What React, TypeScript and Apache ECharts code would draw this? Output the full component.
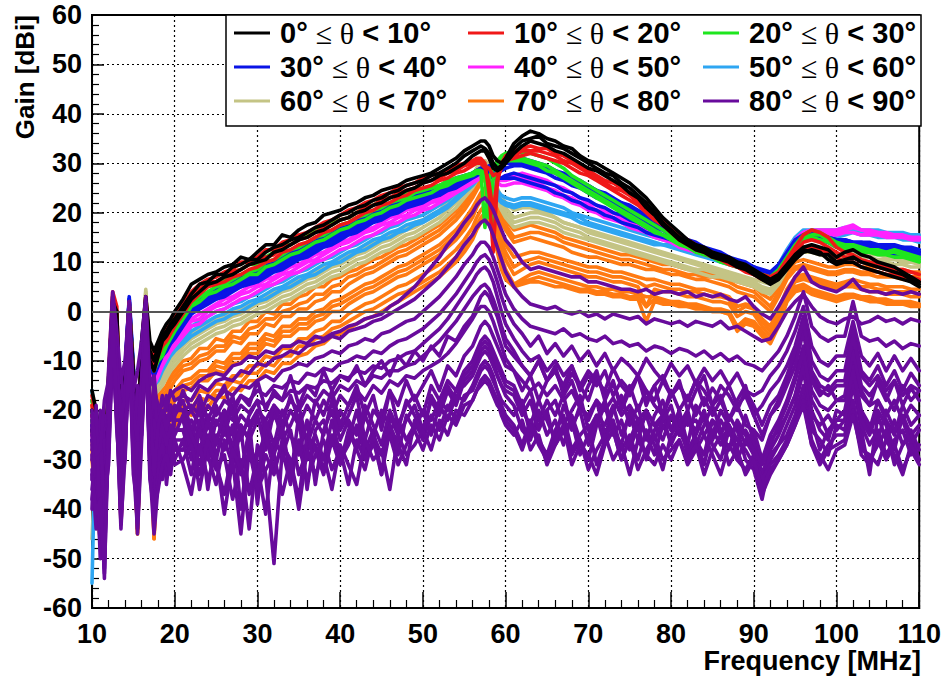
import React, { useEffect, useRef } from "react";
import * as echarts from "echarts";

// Frequency grid (MHz): half steps in the low band and around the 58 MHz resonance
const FREQ = [
  10, 10.5, 11, 11.5, 12, 12.5, 13, 13.5, 14, 14.5, 15, 15.5, 16, 16.5, 17, 17.5, 18, 18.5, 19, 19.5, 20,
  21, 22, 23, 24, 25, 26, 27, 28, 29, 30, 31, 32, 33, 34, 35, 36, 37, 38, 39, 40,
  41, 42, 43, 44, 45, 46, 47, 48, 49, 50, 51, 52, 53, 54, 55, 56,
  56.5, 57, 57.5, 58, 58.5, 59, 59.5, 60,
  61, 62, 63, 64, 65, 66, 67, 68, 69, 70, 71, 72, 73, 74, 75, 76, 77, 78, 79, 80,
  81, 82, 83, 84, 85, 86, 87, 88, 89, 90, 91, 92, 93, 94, 95, 96, 97, 98, 99, 100,
  101, 102, 103, 104, 105, 106, 107, 108, 109, 110,
];

const X_TICKS = [10, 20, 30, 40, 50, 60, 70, 80, 90, 100, 110];
const Y_TICKS = [-60, -50, -40, -30, -20, -10, 0, 10, 20, 30, 40, 50, 60];

const THETA_BINS = [
  ["0°", "10°"], ["10°", "20°"], ["20°", "30°"],
  ["30°", "40°"], ["40°", "50°"], ["50°", "60°"],
  ["60°", "70°"], ["70°", "80°"], ["80°", "90°"],
];
const THETA_COLORS = [
  "#000000", "#f01818", "#1ee61e",
  "#0a14e6", "#ff22ff", "#2ea6f2",
  "#c4c485", "#ff7a12", "#680b9c",
];

// ---- gain curves [dBi], one array per antenna direction ----
// 0° ≤ θ < 10°
const BLACK_A = [
  -16, -20, -26, -34, -14, 2, 0, -26, -12, 1, -12, -28, -6, 3, -6, -8, -6, -4, -2.5, -1.5, 0,
  2.5, 5.5, 6.5, 7.5, 8, 9, 9.5, 11, 10.5, 12, 13.5, 13.5, 15.5, 15, 16.5, 17.5, 18, 19.5, 20, 20.5,
  21.5, 22, 23, 23.5, 24.5, 25, 25.5, 26.5, 27, 27.5, 28, 29, 30, 31, 32.5, 33.5,
  34, 34.5, 34.5, 33.5, 31.5, 30.5, 30, 31,
  34, 35.5, 36.5, 36, 35, 34.5, 33.5, 33, 31.5, 30.5, 30, 29, 28, 27, 26, 24.5, 23, 21, 19, 17.5,
  16, 14.5, 13.5, 13, 12, 11.5, 11, 10, 9.5, 8.5, 7.5, 6.5, 7.5, 9.5, 11.5, 13, 13.5, 13, 12.5, 11,
  12, 12.5, 11.5, 11, 10, 9.5, 9, 8, 7, 6,
];
const BLACK_B = [
  -20, -24, -32, -40, -16, 1, -2, -30, -15, 0, -14, -32, -9, 2, -8, -10, -7, -5, -4, -2.5, -1.5,
  1, 3.5, 5.5, 6, 7.5, 7.5, 9, 9.5, 10.5, 10.5, 12, 13, 13.5, 14.5, 15, 16, 17, 17.5, 18.5, 19.5,
  20, 21, 21.5, 22.5, 23, 24, 24.5, 25.5, 26, 26.5, 27.5, 28, 29, 30, 31.5, 32.5,
  33, 33.5, 33, 32, 30, 29, 29.5, 30.5,
  33, 34.5, 35, 35.5, 34, 33.5, 33, 32, 31, 30, 29, 28, 27.5, 26, 25, 23.5, 22, 20, 18, 16.5,
  15, 14, 13, 12.5, 11.5, 11, 10.5, 9.5, 9, 8, 7, 6, 7, 9, 11, 12.5, 12, 11.5, 11.5, 10,
  10.5, 11, 10, 9.5, 9, 8.5, 8, 7.5, 6.5, 5.5,
];
const BLACK_C = [
  -24, -28, -36, -46, -20, 0, -4, -34, -18, -1, -16, -36, -12, 1, -10, -12, -9, -6, -5, -3.5, -2.5,
  0, 2.5, 4, 5.5, 6, 7, 7.5, 8.5, 9.5, 10, 10.5, 12, 12.5, 13.5, 14.5, 15, 16, 16.5, 17.5, 18.5,
  19, 20, 20.5, 21.5, 22, 23, 23.5, 24.5, 25, 26, 26.5, 27.5, 28, 29, 30, 31.5,
  32, 32.5, 32.5, 31, 29, 28.5, 29, 30,
  32, 33.5, 34.5, 34, 33.5, 32.5, 32, 31, 30, 29, 28.5, 27.5, 26.5, 25.5, 24, 23, 21, 19.5, 17.5, 16,
  14.5, 13.5, 12.5, 12, 11, 10.5, 10, 9, 8.5, 7.5, 6.5, 5.5, 6.5, 8.5, 10.5, 12, 12.5, 12, 10.5, 9.5,
  10, 10, 9, 8.5, 8, 7.5, 7, 6.5, 6, 5,
];

// 10° ≤ θ < 20°
const RED_A = [
  -19, -23, -30, -40, -13, 4, 1, -30, -14, 1, -13, -30, -7, 3, -8, -9, -7, -5, -3.5, -2.5, -1,
  1.5, 4, 5.5, 6.5, 7, 8, 8.5, 10, 10, 11, 12.5, 12.5, 14, 14.5, 15.5, 16, 17, 18, 18.5, 19.5,
  20.5, 21, 22, 22.5, 23.5, 24, 25, 25.5, 26, 27, 27.5, 28, 28.5, 29.5, 30, 30.5,
  31, 31, 30, 24, 12, 26, 30, 31.5,
  32.5, 33, 33.5, 33, 33, 32, 31.5, 30.5, 29.5, 28.5, 27.5, 26.5, 26, 25, 24, 22.5, 21.5, 20, 18.5, 17,
  15.5, 14.5, 13.5, 12.5, 12, 11, 10.5, 9.5, 9, 8, 7.5, 7, 8, 10.5, 13, 15.5, 16.5, 16, 15, 13,
  12, 11.5, 10.5, 10, 9.5, 9, 8.5, 8.5, 8, 7.5,
];
const RED_B = [
  -21, -25, -33, -43, -17, 2, -1, -32, -16, 0, -15, -33, -10, 2, -9, -11, -8, -6, -5, -3.5, -2.5,
  0.5, 3, 4.5, 6, 6, 7, 8, 8.5, 9.5, 10, 11, 11.5, 13, 13.5, 14.5, 15, 16, 17, 17.5, 18.5,
  19, 20, 21, 21.5, 22.5, 23, 24, 24.5, 25, 26, 26.5, 27, 28, 28.5, 29.5, 30,
  30.5, 30.5, 29.5, 29, 27.5, 28, 29.5, 31,
  31.5, 32.5, 32.5, 32.5, 32, 31.5, 30.5, 30, 29, 28, 27, 26, 25, 24.5, 23.5, 22, 20.5, 19.5, 18, 16.5,
  15, 14, 13, 12.5, 11.5, 10.5, 10, 9.5, 8.5, 7.5, 7, 6.5, 7.5, 10, 12, 14, 14.5, 14, 13, 12,
  11, 11, 10, 9.5, 9, 8.5, 8, 7.5, 7, 6.5,
];
const RED_C = [
  -17, -21, -28, -37, -15, 3, 0, -29, -13, 2, -13, -29, -8, 2.5, -9, -12, -9, -7, -6, -4.5, -3,
  -0.5, 2, 3.5, 5, 5.5, 6, 7, 7.5, 8.5, 9, 10, 10.5, 12, 12.5, 13.5, 14, 15, 16, 16.5, 17.5,
  18, 19, 20, 20.5, 21.5, 22, 23, 23.5, 24.5, 25, 25.5, 26.5, 27, 28, 28.5, 29.5,
  30, 30, 29, 26, 20, 27, 29, 30.5,
  31, 31.5, 32, 31.5, 31, 30.5, 30, 29, 28, 27.5, 26.5, 25.5, 24.5, 23.5, 22.5, 21.5, 20, 18.5, 17.5, 16,
  14.5, 13.5, 12.5, 12, 11, 10.5, 9.5, 9, 8, 7.5, 6.5, 6, 7, 9, 11, 13, 13, 12.5, 12, 11,
  10, 10, 9, 8.5, 8, 7.5, 7.5, 7, 6.5, 6,
];

// 20° ≤ θ < 30°
const GREEN_A = [
  -22, -26, -35, -44, -18, 2, -1, -31, -15, 1, -14, -31, -9, 2, -8, -9, -7, -6, -4.5, -3, -2,
  0.5, 3, 4, 5.5, 6, 6.5, 8, 8.5, 9.5, 9.5, 11, 12, 13.5, 13.5, 14.5, 15.5, 16.5, 17, 18, 18.5,
  19, 20, 21, 21.5, 22.5, 23, 23.5, 24, 24.5, 25, 25, 25.5, 26, 26.5, 27.5, 28,
  28.5, 28.5, 17, 27, 29, 30.5, 31.5, 32,
  32.5, 32, 32, 31.5, 31, 30, 29, 27.5, 26.5, 25.5, 24.5, 23.5, 22.5, 21.5, 20.5, 19.5, 18.5, 17.5, 16.5, 15.5,
  14.5, 13.5, 13, 12, 11.5, 11, 10, 9.5, 9, 8, 7.5, 7, 8.5, 11, 13.5, 15.5, 16.5, 16, 15, 14,
  13.5, 13.5, 13, 12.5, 12.5, 12, 12.5, 12, 11.5, 11,
];
const GREEN_B = [
  -18, -22, -29, -38, -14, 2.5, 0, -28, -13, 1.5, -12, -29, -8, 2.5, -9, -11, -9, -8, -6, -4.5, -3,
  -0.5, 1.5, 3, 4, 5, 5.5, 6.5, 7.5, 8, 8.5, 10, 10.5, 11.5, 12.5, 13, 14, 15, 15.5, 16.5, 17.5,
  18, 19, 19.5, 20.5, 21, 22, 22.5, 23, 24, 24.5, 25, 25.5, 26.5, 27, 27.5, 28,
  28.5, 28.5, 28, 27, 16, 29, 30.5, 31.5,
  31.5, 31, 30.5, 30, 29.5, 28.5, 27.5, 26.5, 25.5, 24.5, 23.5, 22.5, 21.5, 20.5, 19.5, 18.5, 17.5, 16.5, 15.5, 15,
  14, 13, 12.5, 12, 11, 10.5, 10, 9, 8.5, 8, 7, 6.5, 8, 10.5, 13, 15, 15.5, 15.5, 14.5, 13.5,
  13, 13, 12.5, 12.5, 12, 12, 12, 11.5, 11, 10.5,
];
const GREEN_C = [
  -20, -25, -31, -42, -16, 1.5, -1, -29, -14, 0.5, -13, -30, -10, 2, -10, -12, -10, -9, -7, -5.5, -4,
  -1.5, 1, 2, 3.5, 4, 5, 5.5, 6.5, 7.5, 7.5, 9, 9.5, 10.5, 11.5, 12, 13, 14, 14.5, 15.5, 16.5,
  17, 18, 18.5, 19.5, 20, 21, 21.5, 22.5, 23, 23.5, 24, 25, 25.5, 26.5, 27, 27.5,
  28, 28, 27, 19, 27, 28.5, 29.5, 30.5,
  30.5, 30.5, 30, 29.5, 28.5, 28, 27, 26, 25, 24, 23, 22, 21, 20, 19, 18, 17, 16, 15.5, 14.5,
  13.5, 13, 12, 11.5, 11, 10, 9.5, 9, 8.5, 7.5, 7, 6.5, 8, 10.5, 12.5, 14.5, 15, 14.5, 14, 13,
  12.5, 12.5, 12, 12, 11.5, 11.5, 11, 11, 10.5, 10,
];

// 30° ≤ θ < 40°
const BLUE_A = [
  -24, -28, -38, -48, -15, 2, -2, -33, -12, 3, -11, -32, -7, 2, -9, -10, -8, -7, -5.5, -4, -3,
  -1, 1.5, 2.5, 3.5, 4.5, 5, 6, 7, 7.5, 8, 9.5, 10, 11, 12, 12.5, 13.5, 14.5, 15, 16, 17,
  17.5, 18.5, 19.5, 20, 21, 21.5, 22.5, 23, 23.5, 24, 24.5, 25.5, 26, 27, 27.5, 28,
  28.5, 29, 29, 29.5, 29.5, 30, 30.5, 30.5,
  31, 31, 30.5, 30, 29.5, 28.5, 28, 27, 26.5, 25.5, 24.5, 23.5, 22.5, 22, 21, 20, 19, 18, 17, 16,
  15, 14, 13.5, 12.5, 12, 11.5, 10.5, 10, 9.5, 9, 8, 7.5, 9, 11.5, 14, 15.5, 16, 15.5, 15, 14.5,
  14.5, 14, 14, 13.5, 13.5, 13.5, 13, 13, 12.5, 12,
];
const BLUE_B = [
  -20, -26, -34, -44, -13, 1, -3, -30, -11, 2, -12, -30, -6, 1.5, -10, -12, -9, -8, -7, -5.5, -4.5,
  -2.5, 0, 1, 2.5, 3, 4, 5, 5.5, 6.5, 7, 8, 9, 9.5, 10.5, 11.5, 12, 13, 14, 14.5, 15.5,
  16.5, 17, 18, 19, 19.5, 20.5, 21, 22, 22.5, 23, 23.5, 24.5, 25, 26, 27, 27.5,
  28, 28.5, 28.5, 28.5, 28, 28, 28.5, 29,
  29.5, 29.5, 29, 28.5, 28, 27, 26.5, 25.5, 25, 24, 23, 22.5, 21.5, 20.5, 20, 19, 18, 17, 16.5, 15.5,
  14.5, 14, 13, 12.5, 12, 11, 10.5, 10, 9.5, 8.5, 8, 7.5, 9, 11.5, 14, 15.5, 15.5, 15, 14.5, 14,
  14, 13.5, 13.5, 13.5, 13, 13, 13, 12.5, 12.5, 12,
];
const BLUE_C = [
  -26, -30, -40, -47, -17, 0.5, -4, -34, -14, 1, -14, -34, -9, 1, -11, -13, -11, -9, -8, -6.5, -5.5,
  -3, -0.5, 0.5, 1.5, 2.5, 3, 4, 5, 5.5, 6, 7, 8, 8.5, 9.5, 10.5, 11, 12, 13, 13.5, 14.5,
  15.5, 16, 17, 18, 18.5, 19.5, 20, 21, 21.5, 22, 23, 23.5, 24.5, 25, 26, 27,
  27.5, 28, 28, 27.5, 27, 27, 27, 27.5,
  28, 27.5, 27, 26.5, 26, 25.5, 24.5, 24, 23, 22.5, 21.5, 21, 20, 19.5, 18.5, 18, 17, 16.5, 15.5, 15,
  14, 13.5, 13, 12, 11.5, 11, 10, 9.5, 9, 8.5, 7.5, 7, 8.5, 11, 13.5, 15, 15, 14.5, 14, 13.5,
  13.5, 13, 13, 12.5, 12.5, 12.5, 12, 12, 11.5, 11.5,
];
const BLUE_D = [
  -22, -27, -36, -45, -16, 1.5, -3, -31, -13, 2.5, -13, -31, -8, 2, -10, -11, -10, -8.5, -6.5, -5, -4,
  -2, 0.5, 1.5, 3, 3.5, 4.5, 5, 6, 7, 7.5, 8.5, 9, 10, 11, 11.5, 12.5, 13.5, 14, 15, 16,
  16.5, 17.5, 18.5, 19, 20, 21, 21.5, 22.5, 23, 23.5, 24, 25, 25.5, 26.5, 27, 27.5,
  28, 28.5, 28.5, 28.5, 28.5, 29, 29.5, 30,
  30, 30, 29.5, 29, 28.5, 28, 27, 26.5, 25.5, 25, 24, 23, 22, 21, 20.5, 19.5, 18.5, 17.5, 16.5, 15.5,
  14.5, 14, 13, 12.5, 12, 11.5, 11, 10, 9.5, 9, 8, 7.5, 9, 11.5, 14, 15, 15.5, 15, 14, 13,
  13, 12.5, 12.5, 12, 12, 12, 11.5, 11.5, 11, 11,
];
const BLUE_E = [
  -23, -29, -37, -46, -16, 1, -3.5, -32, -13, 1.5, -13, -32, -8.5, 1.5, -10.5, -12, -10, -8.5, -7.5, -6, -5,
  -2.5, -0.5, 1, 2, 2.5, 3.5, 4.5, 5, 6, 6.5, 7.5, 8.5, 9, 10, 11, 11.5, 12.5, 13.5, 14, 15,
  16, 16.5, 17.5, 18.5, 19, 20, 20.5, 21.5, 22, 22.5, 23.5, 24, 25, 25.5, 26.5, 27.5,
  28, 28.5, 28.5, 28, 27.5, 27, 27, 27,
  27, 26.5, 26, 25.5, 25, 24, 23.5, 22.5, 22, 21, 20.5, 19.5, 19, 18, 17.5, 17, 16, 15.5, 15, 14.5,
  14, 13.5, 12.5, 12, 11.5, 11, 10.5, 10, 9.5, 8.5, 8, 7.5, 9, 11.5, 14, 15, 15.5, 15, 14.5, 14,
  14, 13.5, 13.5, 13, 13, 13, 12.5, 12.5, 12, 12,
];
const BLUE_F = [
  -21, -26, -35, -45, -14, 2, -2.5, -31, -12, 2.5, -12, -31, -7.5, 2, -9.5, -10.5, -8.5, -7, -6, -4.5, -3.5,
  -1.5, 1, 2, 3, 4, 4.5, 5.5, 6.5, 7, 7.5, 9, 9.5, 10.5, 11.5, 12, 13, 14, 14.5, 15.5, 16.5,
  17, 18, 19, 19.5, 20.5, 21, 22, 22.5, 23, 23.5, 24, 25, 25.5, 26.5, 27, 28,
  28.5, 29, 29, 29, 29, 29.5, 30, 30.5,
  30.5, 30.5, 30, 29.5, 29, 28.5, 27.5, 27, 26, 25.5, 24.5, 24, 23, 22, 21.5, 20.5, 19.5, 18.5, 17.5, 16.5,
  15.5, 14.5, 14, 13, 12.5, 12, 11, 10.5, 10, 9, 8.5, 8, 9.5, 12, 14.5, 15.5, 16, 15.5, 15, 14.5,
  14.5, 14, 14, 14, 13.5, 13.5, 13.5, 13, 13, 12.5,
];

// 40° ≤ θ < 50°
const MAGENTA_A = [
  -25, -30, -36, -46, -18, 2, -3, -40, -15, 1, -15, -35, -10, 1.5, -11, -14, -12, -10, -8.5, -7, -6,
  -4, -2, -1.5, 0, 1, 1.5, 2.5, 3.5, 4, 5, 5.5, 6.5, 7.5, 8, 9, 10, 10.5, 11.5, 12.5, 13.5,
  14, 15, 16, 16.5, 17.5, 18, 19, 19.5, 20.5, 21, 22, 22.5, 23.5, 24.5, 25.5, 26.5,
  27, 27.5, 28, 27.5, 27, 26.5, 26.5, 26.5,
  27, 27, 26.5, 26, 25, 24.5, 23.5, 23, 22, 21.5, 20.5, 20, 19, 18.5, 18, 17, 16.5, 16, 15, 14.5,
  13.5, 13, 12.5, 12, 11.5, 11, 10, 9.5, 9, 8.5, 8, 7.5, 9, 12, 14.5, 16, 16.5, 16.5, 16.5, 16.5,
  17, 17.5, 16.5, 16.5, 16, 16, 15.5, 15.5, 15, 15,
];
const MAGENTA_B = [
  -23, -27, -39, -42, -16, 1, -4, -42, -14, 0, -16, -33, -11, 1, -12, -15, -13, -11, -9.5, -8, -7,
  -5, -3, -2.5, -1, 0, 0.5, 1.5, 2.5, 3, 4, 5, 5.5, 6.5, 7.5, 8, 9, 10, 10.5, 11.5, 12.5,
  13, 14, 15, 15.5, 16.5, 17.5, 18, 19, 19.5, 20.5, 21, 22, 23, 24, 25, 26,
  26.5, 27, 27.5, 27, 26.5, 26, 25.5, 25.5,
  26, 26, 25.5, 25, 24.5, 23.5, 23, 22, 21.5, 20.5, 20, 19, 18.5, 18, 17, 16.5, 16, 15, 14.5, 14,
  13, 12.5, 12, 11.5, 11, 10.5, 10, 9.5, 9, 8.5, 8, 7.5, 9, 11.5, 14, 15.5, 16, 16, 15.5, 15.5,
  16, 16, 15.5, 15.5, 15.5, 15, 15, 15, 14.5, 14.5,
];
const MAGENTA_C = [
  -21, -25, -33, -43, -15, 2.5, -2, -38, -13, 1.5, -13, -32, -9, 2, -10, -13, -11, -9.5, -8, -6.5, -5,
  -3.5, -1.5, -0.5, 0.5, 1.5, 2.5, 3, 4, 5, 5.5, 6.5, 7, 8, 9, 9.5, 10.5, 11.5, 12, 13, 14,
  14.5, 15.5, 16.5, 17, 18, 19, 19.5, 20.5, 21, 21.5, 22.5, 23, 24, 25, 26, 26.5,
  27, 27.5, 27.5, 27.5, 27.5, 27, 27, 27.5,
  27.5, 28, 27.5, 27, 26.5, 25.5, 25, 24, 23, 22, 21.5, 20.5, 20, 19, 18.5, 17.5, 17, 16, 15.5, 15,
  14, 13.5, 13, 12.5, 12, 11, 10.5, 10, 9.5, 9, 8, 7.5, 9, 11.5, 14.5, 16, 16.5, 16, 16, 16,
  16.5, 17, 16.5, 16, 16, 15.5, 15.5, 15, 15, 14.5,
];

// 50° ≤ θ < 60°
const AZURE_A = [
  -55, -20, -30, -44, -14, 2, -3, -34, -13, 1, -13, -31, -9, 2, -11, -14, -12, -10.5, -9, -7.5, -6.5,
  -5, -3, -2, -1, 0, 0.5, 1.5, 2, 3, 3.5, 4.5, 5.5, 6, 7, 8, 8.5, 9.5, 10.5, 11, 12,
  13, 13.5, 14.5, 15.5, 16, 17, 17.5, 18.5, 19, 19.5, 20.5, 21.5, 22.5, 24, 25, 26.5,
  27.5, 28.5, 28.5, 27.5, 26, 24.5, 23.5, 23,
  22.5, 23, 23, 22.5, 22, 21.5, 21, 20, 19.5, 19, 18.5, 18, 17.5, 17, 16.5, 16, 15.5, 15, 14.5, 14,
  13.5, 13, 12.5, 12, 11.5, 11, 10.5, 10, 9.5, 9, 8, 7.5, 9.5, 12.5, 15, 16.5, 16.5, 16.5, 16.5, 16.5,
  17, 17, 16.5, 16.5, 16.5, 16, 16, 16, 15.5, 15.5,
];
const AZURE_B = [
  -16, -24, -32, -46, -17, 1.5, -4, -35, -14, 0.5, -14, -33, -10, 1.5, -12, -15, -13, -11.5, -10, -8.5, -7.5,
  -6, -4, -3, -2, -1, -0.5, 0.5, 1, 2, 2.5, 3.5, 4.5, 5, 6, 7, 7.5, 8.5, 9.5, 10, 11,
  12, 12.5, 13.5, 14.5, 15, 16, 16.5, 17.5, 18, 18.5, 19.5, 20.5, 21.5, 23, 24.5, 26,
  27, 28, 28, 27, 25, 23.5, 22.5, 22,
  21.5, 22, 22, 21.5, 21, 20.5, 20, 19.5, 19, 18, 17.5, 17, 16.5, 16, 15.5, 15, 14.5, 14, 13.5, 13.5,
  13, 12.5, 12, 11.5, 11, 10.5, 10, 9.5, 9, 8.5, 7.5, 7, 9, 12, 14.5, 16, 16, 16, 15.5, 15.5,
  16, 16.5, 16, 16, 15.5, 15.5, 15.5, 15, 15, 14.5,
];
const AZURE_C = [
  -18, -21, -30, -43, -15, 3, -2, -32, -12, 1.5, -12, -30, -8, 2.5, -12, -15, -14, -12, -10.5, -9, -8,
  -6.5, -5, -4, -3, -2, -1.5, -0.5, 0, 1, 2, 2.5, 3.5, 4.5, 5, 6, 7, 7.5, 8.5, 9.5, 10,
  11, 12, 12.5, 13.5, 14.5, 15, 16, 16.5, 17.5, 18, 19, 20, 21, 22.5, 24, 25.5,
  26.5, 27.5, 27.5, 26.5, 24.5, 23, 22, 21.5,
  21, 21.5, 21.5, 21, 20.5, 20, 19.5, 19, 18, 17.5, 17, 16.5, 16, 15.5, 15, 14.5, 14, 13.5, 13.5, 13,
  12.5, 12, 11.5, 11, 10.5, 10, 9.5, 9, 8.5, 8, 7.5, 7, 8.5, 11.5, 14, 15.5, 15.5, 15.5, 15, 15,
  15.5, 16, 15.5, 15.5, 15, 15, 15, 14.5, 14.5, 14,
];

// 60° ≤ θ < 70°
const KHAKI_A = [
  -20, -23, -30, -45, -15, 2.5, -2, -32, -12, 2, -13, -31, -9, 4.5, -11, -14, -13, -12, -10.5, -9, -8,
  -6, -4.5, -3.5, -2.5, -1.5, -1, 0, 0.5, 1.5, 2, 3, 4, 4.5, 5.5, 6.5, 7, 8, 9, 9.5, 10.5,
  11.5, 12, 13, 14, 14.5, 15.5, 16.5, 17, 18, 18.5, 19.5, 20.5, 22, 23.5, 25.5, 27.5,
  29, 30.5, 30.5, 29.5, 27.5, 25, 23, 22,
  20.5, 21, 21, 20.5, 20, 19, 18, 17.5, 17, 16.5, 16, 15.5, 15, 14.5, 14, 13.5, 13, 12.5, 12, 11.5,
  11, 10.5, 10, 9.5, 9, 8.5, 8, 7.5, 7, 6.5, 6, 5.5, 8, 11, 13.5, 14.5, 14.5, 14, 13.5, 13,
  13.5, 13.5, 13, 13, 12.5, 12.5, 12.5, 12, 12, 11.5,
];
const KHAKI_B = [
  -19, -24, -31, -46, -16, 2, -3, -33, -13, 1.5, -14, -32, -10, 4, -12, -15, -14, -13, -11.5, -10, -9,
  -7, -5.5, -4.5, -3.5, -2.5, -2, -1, -0.5, 0.5, 1.5, 2, 3, 4, 4.5, 5.5, 6.5, 7, 8, 9, 9.5,
  10.5, 11.5, 12, 13, 14, 14.5, 15.5, 16.5, 17, 18, 19, 20, 21.5, 23, 25, 27,
  28.5, 30, 30.5, 29.5, 27, 24.5, 22.5, 21,
  19, 19.5, 20, 20, 19.5, 19, 18, 17.5, 17, 16, 15.5, 15, 14.5, 14, 13.5, 13, 12.5, 12, 11.5, 11,
  10.5, 10, 9.5, 9, 8.5, 8, 7.5, 7, 6.5, 6, 5, 4.5, 6.5, 9.5, 12, 13, 13, 12.5, 12, 11.5,
  12, 12, 11.5, 11.5, 11.5, 11, 11, 10.5, 10.5, 10,
];
const KHAKI_C = [
  -21, -26, -33, -48, -17, 1, -4, -35, -14, 1, -15, -34, -11, 3, -13, -16, -15, -14, -12.5, -11, -10,
  -8, -6.5, -5.5, -4.5, -3.5, -3, -2, -1.5, -0.5, 0.5, 1, 2, 3, 3.5, 4.5, 5.5, 6, 7, 8, 8.5,
  9.5, 10.5, 11, 12, 13, 13.5, 14.5, 15.5, 16, 17, 18, 19, 20.5, 22, 24, 26,
  27.5, 29, 29.5, 28.5, 26, 23.5, 21.5, 20,
  18, 18.5, 19, 19, 18.5, 18, 17, 16.5, 16, 15, 14.5, 14, 13.5, 13, 12.5, 12, 11.5, 11, 10.5, 10,
  9.5, 9, 8.5, 8.5, 8, 7.5, 7, 6.5, 6, 5.5, 4.5, 4, 6, 9, 11.5, 12.5, 12.5, 12, 11.5, 11,
  11.5, 11.5, 11, 11, 10.5, 10.5, 10.5, 10, 10, 9.5,
];
const KHAKI_D = [
  -46, -28, -35, -44, -18, 1.5, -5, -36, -15, 0, -16, -35, -12, 3.5, -14, -17, -16, -15, -13.5, -12, -11,
  -9, -7.5, -6.5, -5.5, -4.5, -4, -3, -2.5, -1.5, -0.5, 0, 1, 2, 2.5, 3.5, 4.5, 5, 6, 7, 7.5,
  8.5, 9.5, 10, 11, 12, 12.5, 13.5, 14.5, 15, 16, 17, 18, 19.5, 21, 23, 25,
  26.5, 28, 28.5, 27.5, 25, 22.5, 20.5, 19,
  17, 17.5, 18, 18, 17.5, 17, 16, 15.5, 15, 14.5, 14, 13.5, 13, 12.5, 12, 11.5, 11, 10.5, 10, 9.5,
  9, 8.5, 8, 7.5, 7, 7, 6.5, 6, 5.5, 5, 4, 3.5, 5.5, 8.5, 11, 12, 12, 11.5, 11, 10.5,
  11, 11, 10.5, 10, 10, 10, 9.5, 9.5, 9, 9,
];

// 70° ≤ θ < 80°
const ORANGE_A = [
  -18, -22, -28, -42, -17, 2, -4, -36, -15, 1, -15, -38, -11, 2, -14, -20, -17, -16, -15, -13, -12,
  -10, -9.5, -7.5, -7.5, -5.5, -6, -4, -4, -2, -2, 0, -0.5, 1.5, 1.5, 3, 3.5, 5, 5, 6.5, 7,
  8, 8.5, 9.5, 10.5, 11, 12, 13, 13.5, 14.5, 15.5, 16.5, 17.5, 19, 20.5, 22.5, 25,
  26.5, 28, 28.5, 27.5, 25, 22, 20, 18.5,
  16.5, 17, 17.5, 17, 16.5, 16, 15, 14.5, 14, 13.5, 13, 12.5, 12, 11.5, 11.5, 11, 10.5, 10, 9.5, 9.5,
  9, 8.5, 8.5, 8, 7.5, 7, 6.5, 6, 5.5, 5, 3.5, 2.5, 5, 8, 10, 10.5, 10, 9.5, 9, 9,
  9.5, 9.5, 9, 9, 9, 8.5, 8.5, 8.5, 8, 8,
];
const ORANGE_B = [
  -19, -24, -30, -44, -18, 1.5, -5, -38, -16, 0.5, -16, -40, -12, 2, -15, -22, -18, -17, -16, -14, -13,
  -11, -10.5, -9, -8.5, -7, -7, -5, -5.5, -3.5, -3, -1.5, -1.5, 0, 0.5, 1.5, 2, 3.5, 3.5, 5, 5.5,
  7, 7.5, 8.5, 9, 10, 11, 12, 12.5, 13.5, 14.5, 15.5, 16.5, 18, 19.5, 21.5, 24,
  25.5, 27, 28, 27, 24, 21, 19, 17.5,
  15, 15.5, 16, 16, 15.5, 15, 14, 13.5, 13, 12.5, 12, 11.5, 11, 10.5, 10.5, 10, 9.5, 9, 8.5, 8.5,
  8, 7.5, 7.5, 7, 7, 6.5, 6, 5, 4.5, 4, 2.5, 1, 4, 7, 9, 9.5, 9, 8.5, 8, 8,
  8.5, 8.5, 8, 8, 8, 7.5, 7.5, 7.5, 7, 7,
];
const ORANGE_C = [
  -20, -26, -31, -45, -19, 1, -6, -40, -17, 0, -18, -42, -13, 1.5, -16, -24, -19, -18, -17, -15.5, -14,
  -12, -11.5, -10, -9.5, -8, -8, -6, -6.5, -4.5, -4.5, -2.5, -3, -1, -1, 0.5, 0.5, 2, 2.5, 4, 4,
  5.5, 6.5, 7.5, 8, 9, 10, 11, 11.5, 12.5, 13.5, 14.5, 15.5, 17, 18.5, 20.5, 23,
  24.5, 26, 27, 26, 23.5, 20.5, 18, 16.5,
  14, 14.5, 15, 14.5, 14, 13.5, 13, 12, 11.5, 11, 11, 10.5, 10, 9.5, 9.5, 9, 8.5, 8.5, 8, 7.5,
  7.5, 7, 6.5, 6.5, 6, 5.5, 5, 4, 3.5, 3, 1.5, 0, 3, 6.5, 8.5, 9, 8.5, 8, 7.5, 7.5,
  8, 8, 7.5, 7.5, 7, 7, 7, 6.5, 6.5, 6,
];
const ORANGE_D = [
  -22, -30, -35, -48, -21, 0, -8, -41, -18, -1, -19, -45, -15, 1, -18, -46, -22, -20, -19, -17, -16,
  -14, -13.5, -12, -12, -10, -10.5, -8.5, -8.5, -6.5, -6.5, -4.5, -5, -3, -3, -1.5, -1.5, 0, 0.5, 2, 2.5,
  3.5, 4.5, 5.5, 6, 7, 8, 9, 9.5, 10.5, 11.5, 12.5, 13.5, 15, 16.5, 18.5, 21,
  22.5, 24, 25, 24, 21.5, 18.5, 15.5, 13.5,
  11, 11.5, 12, 12, 11.5, 11, 10.5, 10, 9.5, 9, 9, 8.5, 8, 8, 7.5, 7, 6.5, 6.5, 6, 5.5,
  5.5, 5, 4.5, 4.5, 4, 3.5, 3, 1, 1.5, 1, -1.5, -3, 0.5, 4.5, 7, 7.5, 7, 6.5, 6, 5.5,
  6, 6.5, 6, 5.5, 5.5, 5, 5, 5, 4.5, 4.5,
];
const ORANGE_E = [
  -23, -31, -36, -47, -22, -0.5, -9, -40, -19, -1.5, -20, -44, -16, 1, -19, -43, -23, -21, -20, -18.5, -17,
  -15, -14.5, -13, -13, -11, -11.5, -9.5, -9.5, -7.5, -7.5, -5.5, -6, -4, -4, -2.5, -2.5, -1, -0.5, 1, 1.5,
  2.5, 3.5, 4.5, 5, 6, 7, 8, 8.5, 9.5, 10.5, 11.5, 12.5, 14, 15.5, 17.5, 20,
  22, 23.5, 24.5, 23.5, 21, 17.5, 14, 12,
  9, 10, 10.5, 11, 10.5, 10, 9.5, 9, 8.5, 8, 8, 7.5, 7, 7, 6.5, 6, 5, 5.5, 5, 4.5,
  4.5, 4, 4, 3.5, 3, 3, 2.5, 0, 1, 0.5, -2, -4, -0.5, 4, 6.5, 7, 6.5, 6, 5.5, 5,
  5.5, 5.5, 5, 5, 4.5, 4.5, 4, 4, 4, 3.5,
];
const ORANGE_F = [
  -24, -33, -38, -46, -23, -1, -10, -38, -20, -2, -21, -43, -17, 0.5, -20, -40, -24, -22, -22, -20, -18,
  -16, -15.5, -14, -14, -12, -12.5, -10.5, -10.5, -8.5, -8.5, -6.5, -7, -5, -5, -3.5, -3.5, -2, -1.5, 0, 0,
  1.5, 2.5, 3.5, 4, 5, 6, 7, 7.5, 8.5, 9.5, 10.5, 11.5, 13, 14.5, 16.5, 19,
  21, 22.5, 23.5, 22.5, 20, 16.5, 13, 10.5,
  7.5, 8.5, 9.5, 10, 9.5, 9, 8.5, 8, 7.5, 7, 7, 6.5, 6, 6, 5.5, 5, 1, 4.5, 4, 4,
  3.5, 3, 3, 2.5, 2, 2, 1.5, -1, 0, -0.5, -3, -5, -1, 3.5, 6, 6.5, 6, 5.5, 5, 4.5,
  5, 5, 4.5, 4, 4, 3.5, 3.5, 3.5, 3, 3,
];
const ORANGE_G = [
  -26, -36, -42, -40, -25, -2, -12, -40, -22, -3, -23, -45, -19, 0, -22, -44, -26, -25, -24, -22, -21,
  -18, -18, -16, -16.5, -14.5, -15, -13, -13, -11, -11, -9, -9.5, -7.5, -7.5, -5.5, -5.5, -4, -3.5, -2, -2,
  -0.5, 0.5, 1.5, 2, 3, 4, 5, 5.5, 6.5, 7.5, 8.5, 9.5, 11, 12.5, 14.5, 17,
  19, 20.5, 21.5, 20.5, 18, 14.5, 11, 8.5,
  5.5, 6.5, 7.5, 8, 7.5, 7, 6.5, 6, 5.5, 5, 5, 4.5, 4.5, 4, 4, 3.5, 3, 3, 2.5, 2,
  2, 1.5, 1.5, 1, 0.5, 0.5, 0, -3, -1.5, -2, -4, -6, -2, 2.5, 5, 5.5, 4.5, 4, 3.5, 3,
  3.5, 3.5, 3, 3, 2.5, 2.5, 2, 2, 2, 1.5,
];
const ORANGE_H = [
  -28, -38, -44, -38, -26, -2.5, -13, -42, -23, -3.5, -25, -44, -20, -0.5, -23, -45, -27, -26, -25, -23.5, -22.5,
  -19, -19.5, -17.5, -18, -16, -16, -14, -14.5, -12.5, -12.5, -10.5, -11, -9, -9, -7, -7, -5.5, -5, -3.5, -3,
  -2, -1, 0, 0.5, 1.5, 2.5, 3.5, 4, 5, 6, 7, 8, 9.5, 11, 13, 15.5,
  17.5, 19, 20, 19, 16.5, 13, 9.5, 7.5,
  5, 6, 6.5, 7, 6.5, 6, 5.5, 5, 4.5, 4.5, 4, 4, 3.5, 3.5, 3, 3, 1, 2.5, 2, 2,
  1.5, 1, 1, 0.5, 0, 0, -0.5, -3.5, -2, -2.5, -4.5, -6, -2.5, 2, 4.5, 5, 4, 3.5, 3, 2.5,
  3, 3, 2.5, 2.5, 2, 2, 1.5, 1.5, 1.5, 1,
];
const ORANGE_I = [
  -30, -40, -46, -35, -27, -3, -14, -43, -24, -4, -26, -44, -21, -1, -24, -46, -28, -27, -26, -25, -24,
  -20, -21, -18.5, -19.5, -17, -17.5, -15.5, -16, -14, -14, -12, -12.5, -10.5, -10.5, -9, -8.5, -7, -6.5, -5, -4.5,
  -3.5, -2.5, -1.5, -1, 0, 1, 2, 3, 4, 5, 6, 7, 8.5, 10, 12, 14.5,
  16.5, 18, 19, 18, 15.5, 12, 8.5, 6.5,
  5, 5.5, 6, 6, 5.5, 5, 5, 4.5, 4, 4, 3.5, 3.5, 3, 3, 2.5, 2.5, -2, 2, 1.5, 1.5,
  1, 1, 0.5, 0.5, 0, 0, -0.5, -4, -2.5, -3, -5, -6.5, -3, 2, 4, 4.5, 3.5, 3, 2.5, 2,
  2.5, 3, 2.5, 2, 2, 1.5, 1.5, 1.5, 1, 1,
];

// 80° ≤ θ < 90°
const PURPLE_A = [
  -25, -30, -40, -50, -20, 3, -8, -38, -18, 0, -20, -40, -15, 2, -18, -32, -20, -19, -18, -17, -16,
  -15, -16, -14, -13, -12.5, -13, -11, -10.5, -9, -9.5, -8, -8.5, -7, -7, -6, -6.5, -5, -5.5, -4.5, -4,
  -3, -2.5, -1.5, -1, -0.5, 1, 2, 3.5, 5, 7, 9, 11, 13.5, 15.5, 18, 20,
  21.5, 22.5, 23, 22, 20.5, 18.5, 16.5, 14.5,
  12.5, 10, 8.5, 9, 8.5, 8, 7.5, 7, 7, 6, 6, 5.5, 5, 4.5, 4.5, 4, 4.5, 3.5, 4, 4,
  3.5, 4, 3, 3.5, 3, 3.5, 2.5, 2, 3, 1, -0.5, -1.5, 1, 4, 7, 9, 6, 5, 4.5, 4,
  5, 6.5, 4.5, 4, 4, 3.5, 4, 3.5, 4, 3.5,
];
const PURPLE_B = [
  -20, -28, -22, -45, -12, 4, -4, -14, -10, 2, -16, -12, -6, 3, -15, -13, -22, -17, -20, -16, -18,
  -17, -18, -15, -16, -14, -13.5, -14, -12, -12.5, -10.5, -11, -9.5, -9, -8, -8.5, -7, -6.5, -6, -5, -5.5,
  -4, -3.5, -3, -2, -1.5, -0.5, 0.5, 1.5, 2.5, 4, 5.5, 7, 9, 11, 13.5, 15.5,
  17, 18, 18.5, 17.5, 15.5, 13, 10.5, 8,
  5, 3, 1.5, 1, 0.5, 1, 0, -0.5, 0, -1, -0.5, -1.5, -0.5, -1, -1.5, -1, -2.5, -1.5, -2, -2.5,
  -2, -3, -2, -2.5, -3, -2, -3.5, -3, -4, -5, -6, -5.5, -3, 0, 2, 3.5, 1, -1, -2, -2.5,
  -1.5, -1, -2.5, -2, -1, -2, -1.5, -2.5, -1.5, -2,
];
const PURPLE_C = [
  -28, -24, -44, -21, -25, 1, -12, -20, -22, -2, -24, -18, -18, 0, -21, -16, -19, -24, -17, -22, -19,
  -20, -19, -21, -17, -18, -16, -17, -15, -15.5, -14, -13, -14, -12, -11.5, -10.5, -11, -9.5, -9, -8, -8.5,
  -7, -6.5, -5.5, -6, -4.5, -4, -3, -2, -1.5, 0, 1.5, 3, 5, 7, 9.5, 11.5,
  13, 14, 14, 13, 11, 8.5, 6, 3.5,
  0.5, -1.5, -3, -3.5, -4, -4.5, -3.5, -5, -4.5, -5.5, -6, -5, -6.5, -6, -7, -6.5, -8, -7, -7.5, -8.5,
  -7.5, -8, -9, -8, -9.5, -8.5, -10, -9, -10.5, -11, -12, -10, -8, -5, -1, 4, -3, -5, -6, -5,
  -5, 2, -5, -6, -5.5, -7, -6, -7.5, -6.5, -7,
];
const PURPLE_D = [
  -22, -33, -30, -54, -18, 2, -10, -26, -16, 1, -22, -24, -14, 1, -25, -20, -26, -21, -25, -19, -22,
  -22, -20, -23, -19, -21, -18, -19.5, -17, -18, -16, -17, -15, -15.5, -14, -14.5, -12.5, -13, -11.5, -12, -10.5,
  -10, -9, -9.5, -8, -8.5, -7, -6, -5.5, -4.5, -3.5, -2, -0.5, 1.5, 3.5, 6, 8.5,
  10, 11, 11.5, 10.5, 8.5, 6, 3, 0.5,
  -2.5, -4.5, -7, -5, -8.5, -6.5, -9, -7, -10, -8, -11, -8.5, -12, -9.5, -11, -13, -9.5, -12, -14, -10.5,
  -13, -11, -14.5, -11.5, -14, -12, -15, -12.5, -16, -17, -16, -13, -11, -8, -4, 1, -7, -10, -11, -9,
  -9, -2, -9, -11, -8.5, -12, -9, -12, -9.5, -12,
];
const PURPLE_E = [
  -30, -22, -42, -26, -28, -2, -15, -17, -25, -4, -18, -28, -20, -2, -28, -24, -23, -27, -21, -26, -24,
  -24, -22, -25, -21, -23, -20, -22, -19, -20.5, -18, -19, -17, -18, -16, -16.5, -15, -15.5, -14, -14.5, -13,
  -13.5, -12, -12.5, -11, -11.5, -10, -9.5, -8.5, -8, -6.5, -5, -3.5, -1.5, 1, 3.5, 6,
  7.5, 8.5, 9, 8, 6, 3, 0, -2.5,
  -5.5, -8, -10, -9, -12, -10, -13, -11, -15, -12, -14, -16, -11.5, -15, -17, -13, -16, -18, -14, -17,
  -15, -18, -14, -19, -15.5, -18, -15, -19, -17, -21, -19, -16, -14, -11, -7, -1, -10, -13, -14, -12,
  -12, -4, -12, -14, -11, -15, -12, -16, -12.5, -15,
];
const PURPLE_F = [
  -26, -36, -28, -48, -22, 0, -18, -30, -20, -6, -27, -22, -24, -4, -20, -28, -29, -22, -28, -24, -26,
  -26, -24, -28, -23, -26, -22, -25, -21, -23, -20, -22, -19, -21, -18, -20, -17, -18.5, -16, -17.5, -15,
  -16, -14, -15, -13, -13.5, -12, -12, -11, -10.5, -9, -7.5, -6, -4, -2, 0.5, 3,
  4, 5, 5.5, 4.5, 2.5, 0, -3, -5.5,
  -8, -11, -13, -10, -14, -12, -16, -12.5, -15, -18, -13, -17, -14.5, -19, -15, -20, -16, -19, -21, -16,
  -20, -17, -21, -17.5, -21, -18, -22, -19, -23, -24, -26, -21, -18, -14, -9, -4, -13, -16, -17, -15,
  -15, -7, -15, -17, -14.5, -18, -14, -19, -15.5, -18,
];
const PURPLE_G = [
  -34, -26, -46, -40, -30, -4, -20, -23, -28, -8, -25, -33, -16, -6, -30, -36, -24, -31, -23, -29, -28,
  -28, -26, -31, -25, -29, -24, -28, -23, -26, -22, -25, -21, -24, -20, -23, -19, -22, -18, -21, -17,
  -19, -16, -18, -15, -16.5, -14, -15, -13, -13.5, -12, -11, -10, -8.5, -6.5, -4, -1.5,
  0, 1, 1, 0, -2, -4.5, -7, -9.5,
  -12, -14, -16, -14.5, -17, -15, -18, -16, -19.5, -21, -18, -20, -17.5, -21, -19, -22, -20, -23, -21, -24,
  -21, -23, -22, -25, -22, -24, -23, -26, -24, -27, -30, -25, -22, -18, -13, -7, -16, -19, -20, -18,
  -18, -9, -17, -19, -18, -21, -18, -22, -19, -21,
];
const PURPLE_H = [
  -24, -40, -20, -52, -16, -6, -14, -39, -24, -3, -30, -15, -22, -1, -23, -18, -31, -26, -33, -27, -20,
  -20, -27, -18, -30, -22, -25, -19, -33, -24, -21, -28, -20, -26, -23, -19, -27, -22, -25, -18, -24,
  -21, -17, -26, -20, -22, -16, -23, -19, -17, -21, -15, -18, -14, -16, -12, -10,
  -8, -6, -5, -6, -8, -10, -12, -14,
  -15, -19, -16, -22, -18, -21, -17, -24, -19, -22, -18, -25, -20, -17, -23, -19, -26, -21, -18, -24,
  -20, -27, -19, -22, -25, -20, -23, -28, -21, -26, -33, -28, -25, -21, -17, -10, -20, -24, -26, -20,
  -21, -11, -21, -24, -18, -22, -25, -19, -23, -21,
];
const PURPLE_I = [
  -38, -30, -48, -44, -26, -8, -22, -42, -18, -10, -21, -45, -26, -8, -27, -41, -22, -34, -25, -31, -24,
  -24, -30, -22, -36, -25, -28, -23, -40, -27, -31, -41, -26, -29, -24, -33, -28, -25, -30, -22, -29,
  -26, -20, -28, -24, -33, -21, -25, -22, -19, -24, -18, -21, -16, -19, -14, -12,
  -10, -8, -7, -8, -10, -13, -15, -17,
  -19, -24, -26, -20, -25, -22, -27, -21, -26, -30, -23, -19, -25, -22, -28, -23, -30, -24, -21, -27,
  -23, -20, -26, -29, -22, -25, -21, -24, -30, -32, -38, -30, -27, -23, -19, -12, -22, -28, -24, -22,
  -22, -13, -24, -33, -21, -26, -22, -27, -24, -28,
];
const PURPLE_J = [
  -32, -44, -36, -50, -24, -2, -24, -35, -30, -5, -33, -39, -18, -3, -32, -45, -35, -28, -30, -25, -28,
  -28, -25, -36, -27, -32, -29, -38, -30, -44, -27, -33, -51, -28, -35, -26, -30, -27, -32, -25, -30,
  -27, -23, -29, -26, -33, -24, -22, -26, -23, -20, -25, -19, -22, -17, -18, -15,
  -13, -11, -10, -11, -13, -16, -18, -19,
  -21, -18, -25, -23, -20, -27, -24, -22, -29, -25, -21, -27, -24, -30, -26, -22, -25, -29, -23, -26,
  -24, -28, -25, -21, -27, -30, -24, -26, -28, -31, -35, -29, -27, -25, -21, -15, -24, -26, -29, -23,
  -24, -15, -23, -27, -24, -29, -26, -24, -29, -27,
];
const PURPLE_K = [
  -27, -34, -24, -42, -20, 1, -16, -12, -22, -1, -26, -20, -21, -2, -26, -14, -27, -30, -22, -28, -22,
  -22, -28, -24, -21, -30, -23, -27, -25, -22, -39, -24, -29, -23, -34, -21, -36, -24, -22, -27, -20,
  -23, -28, -21, -25, -20, -23, -29, -21, -24, -20, -22, -18, -20, -16, -15, -13,
  -11, -9, -8, -9, -11, -13, -15, -16,
  -17, -21, -18, -24, -20, -18, -23, -20, -17, -24, -21, -23, -19, -25, -21, -26, -20, -23, -26, -21,
  -25, -22, -24, -20, -26, -22, -25, -23, -27, -24, -30, -26, -24, -21, -17, -11, -21, -23, -21, -24,
  -22, -14, -22, -25, -20, -23, -28, -21, -25, -23,
];
const PURPLE_L = [
  -29, -38, -44, -47, -22, -1, -17, -27, -21, -2, -28, -35, -19, -1, -27, -30, -25, -29, -24, -30, -21,
  -18, -24, -20, -27, -19, -23, -17, -26, -21, -18, -25, -19, -23, -17, -22, -26, -18, -21, -16, -23,
  -19, -15, -21, -17, -24, -16, -19, -14, -18, -15, -12, -16, -11, -13, -9, -7,
  -5, -3, -2, -3, -5, -7, -9, -11,
  -12, -16, -13, -18, -14, -11, -17, -14, -19, -15, -12, -18, -14, -20, -16, -13, -19, -15, -21, -17,
  -14, -20, -16, -13, -19, -17, -22, -18, -15, -21, -25, -21, -19, -15, -11, -4, -14, -17, -15, -18,
  -17, -8, -16, -19, -14, -17, -20, -15, -18, -16,
];
const PURPLE_M = [
  -36, -28, -50, -40, -28, -5, -21, -44, -26, -7, -23, -39, -23, -5, -29, -42, -33, -24, -35, -27, -30,
  -26, -33, -24, -29, -35, -26, -31, -24, -37, -29, -25, -32, -27, -30, -38, -25, -28, -33, -26, -31,
  -24, -28, -32, -25, -29, -23, -27, -31, -22, -26, -21, -24, -19, -22, -17, -16,
  -14, -12, -11, -12, -14, -16, -19, -21,
  -23, -27, -22, -26, -29, -24, -21, -28, -25, -23, -31, -26, -22, -28, -25, -30, -24, -27, -32, -25,
  -22, -29, -26, -31, -24, -27, -23, -30, -26, -29, -34, -31, -29, -26, -22, -17, -26, -30, -27, -25,
  -25, -18, -27, -30, -27, -24, -31, -27, -25, -30,
];
const PURPLE_N = [
  -23, -35, -40, -48, -19, -3, -13, -32, -20, -4, -24, -30, -17, -3, -21, -26, -28, -23, -27, -23, -25,
  -21, -25, -29, -22, -27, -20, -30, -23, -26, -34, -22, -27, -20, -25, -29, -22, -35, -24, -20, -26,
  -22, -25, -19, -23, -27, -20, -24, -18, -21, -25, -17, -20, -15, -18, -13, -11,
  -9, -7, -6, -7, -9, -11, -13, -15,
  -16, -20, -23, -18, -22, -26, -19, -23, -20, -27, -22, -18, -24, -27, -20, -24, -21, -26, -22, -19,
  -25, -21, -27, -23, -19, -24, -28, -22, -25, -28, -31, -27, -23, -19, -14, -8, -18, -21, -25, -22,
  -20, -12, -20, -23, -26, -20, -24, -22, -27, -24,
];
const PURPLE_O = [
  -40, -19, -46, -38, -31, -6, -23, -18, -27, -9, -29, -16, -25, -7, -31, -22, -30, -27, -32, -26, -31,
  -30, -27, -33, -26, -31, -37, -28, -32, -25, -35, -29, -33, -26, -31, -27, -34, -29, -26, -32, -28,
  -35, -26, -30, -27, -29, -25, -31, -27, -24, -28, -23, -26, -21, -23, -19, -18,
  -16, -14, -13, -14, -16, -18, -21, -23,
  -25, -22, -28, -25, -31, -27, -24, -29, -26, -32, -28, -25, -30, -27, -33, -26, -29, -31, -27, -30,
  -26, -31, -28, -25, -29, -33, -27, -30, -32, -29, -37, -33, -30, -27, -23, -18, -27, -31, -28, -27,
  -26, -20, -29, -31, -26, -30, -27, -32, -28, -31,
];
const PURPLE_P = [
  -21, -29, -28, -18, -14, 0, -11, -22, -17, -1, -21, -26, -14, 0, -19, -33, -23, -20, -24, -19, -21,
  -16, -20, -17, -22, -18, -15, -21, -17, -19, -14, -20, -16, -18, -13, -19, -15, -17, -12, -16, -13,
  -14, -11, -15, -12, -10, -13, -9, -11, -8, -10, -7, -9, -5, -6, -3, -1,
  1, 3, 4, 3, 1, -1, -4, -7,
  -9, -11, -13, -10, -14, -12, -15, -11, -16, -13, -15, -12, -17, -14, -16, -13, -18, -15, -13, -17,
  -15, -18, -14, -16, -19, -15, -17, -20, -16, -19, -23, -19, -17, -13, -8, -2, -12, -15, -16, -14,
  -14, -5, -13, -15, -13, -16, -14, -17, -15, -16,
];
const PURPLE_Q = [
  -33, -41, -38, -53, -25, -3, -19, -43, -29, -6, -31, -44, -24, -4, -34, -40, -36, -31, -29, -33, -26,
  -31, -37, -27, -34, -29, -41, -30, -45, -28, -36, -32, -29, -37, -30, -40, -28, -33, -29, -36, -27,
  -31, -35, -26, -30, -28, -36, -25, -29, -27, -24, -28, -22, -25, -20, -21, -18,
  -16, -15, -14, -15, -17, -19, -20, -22,
  -24, -28, -23, -27, -30, -26, -23, -31, -27, -29, -33, -27, -24, -30, -26, -32, -28, -25, -30, -28,
  -26, -30, -27, -33, -28, -25, -31, -28, -33, -30, -36, -32, -30, -27, -23, -19, -27, -29, -32, -28,
  -27, -21, -28, -29, -31, -26, -29, -33, -27, -30,
];

const CURVES_BY_BIN = [
  [BLACK_A, BLACK_B, BLACK_C],
  [RED_A, RED_B, RED_C],
  [GREEN_A, GREEN_B, GREEN_C],
  [BLUE_A, BLUE_B, BLUE_C, BLUE_D, BLUE_E, BLUE_F],
  [MAGENTA_A, MAGENTA_B, MAGENTA_C],
  [AZURE_A, AZURE_B, AZURE_C],
  [KHAKI_A, KHAKI_B, KHAKI_C, KHAKI_D],
  [ORANGE_A, ORANGE_B, ORANGE_C, ORANGE_D, ORANGE_E, ORANGE_F, ORANGE_G, ORANGE_H, ORANGE_I],
  [
    PURPLE_A, PURPLE_B, PURPLE_C, PURPLE_D, PURPLE_E, PURPLE_F, PURPLE_G, PURPLE_H, PURPLE_I,
    PURPLE_J, PURPLE_K, PURPLE_L, PURPLE_M, PURPLE_N, PURPLE_O, PURPLE_P, PURPLE_Q,
  ],
];

// paint order of the θ bins (last one ends up on top)
const DRAW_ORDER = [7, 6, 5, 4, 3, 2, 1, 0, 8];

const FONT = "'Liberation Sans', Arial, Helvetica, sans-serif";

function buildSeries() {
  const series: any[] = [];
  DRAW_ORDER.forEach((bin) => {
    CURVES_BY_BIN[bin].forEach((gain, k) => {
      const n = Math.min(gain.length, FREQ.length);
      const data: number[][] = [];
      for (let i = 0; i < n; i++) data.push([FREQ[i], gain[i]]);
      series.push({
        type: "line",
        name: `${THETA_BINS[bin][0]}-${THETA_BINS[bin][1]} #${k + 1}`,
        data,
        symbol: "none",
        showSymbol: false,
        silent: true,
        clip: true,
        lineStyle: { color: THETA_COLORS[bin], width: 3.6, join: "round", cap: "round" },
      });
    });
  });
  // solid reference line at 0 dBi, drawn above every curve
  const last = series[series.length - 1];
  last.markLine = {
    silent: true,
    symbol: ["none", "none"],
    label: { show: false },
    lineStyle: { color: "#555", width: 2, type: "solid" },
    data: [{ yAxis: 0 }],
  };
  return series;
}

function buildLegend() {
  const colX = [234, 468, 703];
  const rowY = [33, 67, 101];
  const items: any[] = [
    {
      type: "rect",
      shape: { x: 226, y: 15, width: 695, height: 111 },
      style: { fill: "#ffffff", stroke: "#000", lineWidth: 1.5 },
      z: 100,
    },
  ];
  THETA_BINS.forEach(([lo, hi], i) => {
    const x = colX[i % 3];
    const y = rowY[Math.floor(i / 3)];
    items.push({
      type: "line",
      shape: { x1: x, y1: y, x2: x + 36, y2: y },
      style: { stroke: THETA_COLORS[i], lineWidth: 3 },
      z: 101,
    });
    items.push({
      type: "text",
      x: x + 46,
      y,
      z: 101,
      style: {
        text: `{b|${lo} }{s|≤ θ}{b| < ${hi}}`,
        verticalAlign: "middle",
        align: "left",
        rich: {
          b: { fontFamily: FONT, fontWeight: "bold", fontSize: 29, fill: "#000" },
          s: { fontFamily: "'Liberation Serif', serif", fontWeight: "normal", fontSize: 30, fill: "#000" },
        },
      },
    });
  });
  return items;
}

export default function App() {
  const ref = useRef<HTMLDivElement>(null);

  useEffect(() => {
    if (!ref.current) return;
    const chart = echarts.init(ref.current, undefined, { renderer: "svg" });
    const axisLabel = { fontFamily: FONT, fontWeight: "bold", fontSize: 27, color: "#000" };
    chart.setOption({
      animation: false,
      backgroundColor: "#ffffff",
      grid: {
        left: 92,
        right: 23,
        top: 15,
        bottom: 72,
        show: true,
        borderColor: "#000",
        borderWidth: 2,
        backgroundColor: "transparent",
      },
      xAxis: {
        type: "value",
        min: X_TICKS[0],
        max: X_TICKS[X_TICKS.length - 1],
        interval: 10,
        axisLine: { show: true, onZero: false, lineStyle: { color: "#000", width: 2 } },
        axisTick: { show: true, inside: true, length: 16, lineStyle: { color: "#000", width: 1.5 } },
        minorTick: { show: true, splitNumber: 5, length: 8, lineStyle: { color: "#000", width: 1.2 } },
        splitLine: { show: true, lineStyle: { color: "#000", width: 1.2, type: [2, 3] } },
        axisLabel: { ...axisLabel, margin: 12, showMinLabel: true, showMaxLabel: true },
      },
      yAxis: {
        type: "value",
        min: Y_TICKS[0],
        max: Y_TICKS[Y_TICKS.length - 1],
        interval: 10,
        axisLine: { show: true, lineStyle: { color: "#000", width: 2 } },
        axisTick: { show: true, inside: true, length: 12, lineStyle: { color: "#000", width: 1.5 } },
        minorTick: { show: true, splitNumber: 5, length: 7, lineStyle: { color: "#000", width: 1.2 } },
        splitLine: { show: true, lineStyle: { color: "#000", width: 1.2, type: [2, 3] } },
        axisLabel: { ...axisLabel, margin: 10, showMinLabel: true, showMaxLabel: true },
      },
      series: buildSeries(),
      graphic: [
        ...buildLegend(),
        {
          type: "text",
          x: 25,
          y: 15,
          rotation: Math.PI / 2,
          z: 100,
          style: {
            text: "Gain [dBi]",
            align: "right",
            verticalAlign: "middle",
            fontFamily: FONT,
            fontWeight: "bold",
            fontSize: 26,
            fill: "#000",
          },
        },
        {
          type: "text",
          x: 921,
          y: 661,
          z: 100,
          style: {
            text: "Frequency [MHz]",
            align: "right",
            verticalAlign: "middle",
            fontFamily: FONT,
            fontWeight: "bold",
            fontSize: 27,
            fill: "#000",
          },
        },
      ],
    });
    return () => chart.dispose();
  }, []);

  return (
    <div
      ref={ref}
      style={{ position: "fixed", left: 0, top: 0, width: 944, height: 680, background: "#fff" }}
    />
  );
}
